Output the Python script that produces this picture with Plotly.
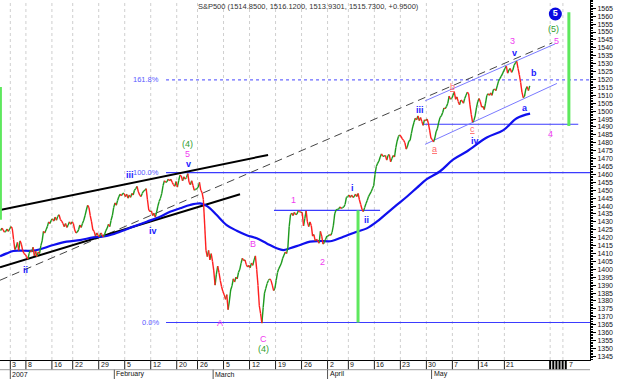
import plotly.graph_objects as go

# ---------------- DATA ----------------
title_text = "S&P500 (1514.8500, 1516.1200, 1513.9301, 1515.7300, +0.9500)"

# trading-day index (0 = 3 Jan 2007); four intraday readings per day
trade_days = ["Dec28", "Dec29",
              "Jan3", "Jan4", "Jan5", "Jan8", "Jan9", "Jan10", "Jan11", "Jan12", "Jan16", "Jan17",
              "Jan18", "Jan19", "Jan22", "Jan23", "Jan24", "Jan25", "Jan26", "Jan29", "Jan30", "Jan31",
              "Feb1", "Feb2", "Feb5", "Feb6", "Feb7", "Feb8", "Feb9", "Feb12", "Feb13", "Feb14",
              "Feb15", "Feb16", "Feb20", "Feb21", "Feb22", "Feb23", "Feb26", "Feb27", "Feb28",
              "Mar1", "Mar2", "Mar5", "Mar6", "Mar7", "Mar8", "Mar9", "Mar12", "Mar13", "Mar14",
              "Mar15", "Mar16", "Mar19", "Mar20", "Mar21", "Mar22", "Mar23", "Mar26", "Mar27",
              "Mar28", "Mar29", "Mar30",
              "Apr2", "Apr3", "Apr4", "Apr5", "Apr9", "Apr10", "Apr11", "Apr12", "Apr13", "Apr16",
              "Apr17", "Apr18", "Apr19", "Apr20", "Apr23", "Apr24", "Apr25", "Apr26", "Apr27", "Apr30",
              "May1", "May2", "May3", "May4", "May7", "May8", "May9", "May10", "May11", "May14",
              "May15", "May16", "May17", "May18", "May21", "May22", "May23", "May24", "May25"]
first_day_index = -2

price_quarters = [
    [1424.5, 1426, 1425, 1423.5], [1424, 1425.5, 1424, 1425.5],
    [1427, 1426, 1419, 1412.5], [1414, 1417, 1412, 1418], [1416, 1412, 1410, 1409.5],
    [1408, 1406.5, 1410, 1412], [1411, 1414, 1408.5, 1411.5], [1408, 1411, 1410, 1415],
    [1418, 1424, 1423, 1425], [1427, 1430, 1429, 1431], [1432, 1430.5, 1433, 1431],
    [1433.5, 1434.5, 1431.5, 1430.5], [1429, 1427, 1429, 1426.5], [1428, 1430, 1428.5, 1430],
    [1429, 1425, 1423, 1423.5], [1425, 1428, 1426.5, 1429], [1431, 1434, 1437.5, 1440.5],
    [1439, 1434, 1430, 1425], [1424, 1421, 1423, 1421.5], [1420.5, 1423, 1422, 1420.5],
    [1422, 1424.5, 1426, 1428.5], [1427, 1431, 1434, 1439],
    [1442, 1440.5, 1443.5, 1446], [1447.5, 1446.5, 1448, 1448], [1446, 1447.5, 1445, 1447],
    [1445.5, 1448, 1447, 1450], [1451, 1452.5, 1449, 1447], [1446, 1448, 1449.5, 1450],
    [1451, 1444, 1437.5, 1436.5], [1437, 1434, 1435.5, 1433], [1436, 1440, 1443, 1445],
    [1448, 1453, 1456, 1455], [1455.5, 1457, 1456, 1457], [1455, 1453.5, 1452.5, 1455.5],
    [1452, 1456, 1459.5, 1459], [1456, 1458.5, 1457, 1458], [1460.5, 1455, 1453.5, 1456],
    [1453, 1450, 1450.5, 1451], [1452, 1455, 1450, 1448.5], [1444, 1428, 1412, 1408],
    [1412, 1406, 1410, 1405],
    [1399, 1390, 1397, 1402], [1398, 1393, 1389, 1386], [1384, 1381, 1384, 1374.5],
    [1380, 1387, 1389.5, 1394], [1392, 1395, 1394, 1398], [1400, 1404, 1407, 1405.5],
    [1406, 1403, 1401.5, 1402.5], [1401, 1404, 1402.5, 1406], [1408.5, 1400, 1390, 1377],
    [1372, 1366, 1376, 1385], [1388, 1391, 1393, 1394], [1393, 1390, 1386.5, 1388],
    [1393, 1398, 1400.5, 1402], [1404, 1407, 1409, 1411], [1410, 1414, 1427, 1434.5],
    [1435.5, 1434, 1436, 1434.5], [1435, 1437, 1436.5, 1436], [1436, 1427.5, 1432, 1437],
    [1430, 1427, 1430, 1427.5], [1421, 1422, 1418, 1419], [1418, 1416.5, 1424, 1421],
    [1416, 1417, 1419, 1421],
    [1421, 1422, 1421.5, 1423.5], [1428, 1435, 1437.5, 1438], [1438, 1439.5, 1438.5, 1439],
    [1439.5, 1441, 1445.5, 1446], [1447, 1445.5, 1447, 1445.5], [1446, 1447.5, 1446, 1448],
    [1444, 1441, 1438, 1436.5], [1439, 1441.5, 1443.5, 1446], [1447.5, 1449, 1451, 1453],
    [1460, 1465, 1467, 1468.5], [1471, 1473, 1471.5, 1471.5], [1472, 1469, 1472, 1472.5],
    [1468, 1470, 1472, 1471], [1477, 1481, 1484, 1485], [1484, 1482.5, 1481.5, 1480],
    [1476, 1478, 1481, 1481.5], [1486, 1490, 1493, 1495.5], [1494.5, 1497, 1494, 1496],
    [1493.5, 1491, 1494.5, 1494], [1495, 1492.5, 1488, 1483],
    [1482, 1480.5, 1483, 1487], [1489, 1493, 1496, 1497], [1499, 1502, 1501.5, 1503],
    [1505, 1509.5, 1507.5, 1508], [1510, 1512, 1507.5, 1509], [1506, 1504, 1507, 1506.5],
    [1505, 1508, 1510, 1512], [1511, 1504, 1498, 1493], [1494, 1497, 1502, 1506],
    [1508, 1506, 1502.5, 1503], [1501, 1505, 1510, 1511], [1510, 1511.5, 1510, 1513.5],
    [1514, 1513, 1516, 1519], [1520.5, 1522, 1523.5, 1525.5], [1527, 1528.5, 1524, 1526],
    [1527, 1524.5, 1526, 1529], [1530.5, 1531.5, 1527, 1523], [1518, 1512, 1508.5, 1509.5],
    [1514, 1515.5, 1513, 1516],
]

# moving average
ma_idx = [-1.98, -0.69, 0.58, 1.87, 4.42, 5.71, 8.27, 10.85, 13.4, 15.96, 18.54, 21.1, 23.65,
          26.23, 28.79, 30.71, 32.63, 34.56, 36.48, 37.44, 38.4, 39.69, 41.6, 43.54, 45.46,
          47.38, 49.31, 51.23, 52.5, 53.79, 55.71, 57.63, 59.56, 61.81, 64.04, 66.62, 68.54,
          70.46, 72.38, 74.31, 76.23, 78.15, 80.08, 82.63, 85.19, 87.77, 91.62, 94.81, 97.38, 99.94]
ma_val = [1408.3, 1410.1, 1411.6, 1411.8, 1411.8, 1412.7, 1415.4, 1417.5, 1418.5, 1420.2,
          1421.1, 1423.8, 1427.0, 1430.1, 1433.3, 1436.4, 1438.6, 1440.7, 1441.7, 1440.7,
          1438.6, 1434.3, 1428.0, 1424.4, 1421.6, 1419.6, 1416.4, 1413.3, 1412.2, 1413.3,
          1415.4, 1417.5, 1417.9, 1417.9, 1420.6, 1423.8, 1425.9, 1430.1, 1435.4, 1440.7,
          1445.9, 1451.5, 1457.0, 1462.0, 1469.5, 1474.5, 1483.3, 1488.0, 1495.5, 1498.4]

# trend lines (start/end in day index and price)
upper_black_idx, upper_black_val = [-1.98, 49.56], [1437.5, 1472.3]
lower_black_idx, lower_black_val = [-1.98, 44.17], [1401.3, 1447.5]
dashed_idx, dashed_val = [-1.98, 104.2], [1393.1, 1543.2]
chan_top_idx, chan_top_val = [79.75, 104.75], [1506.5, 1542.5]
chan_bot_idx, chan_bot_val = [79.75, 105.1], [1479.0, 1517.5]
level_a_idx, level_a_val = [79.2, 109.2], [1491.7, 1491.7]
level_b_idx, level_b_val = [50.7, 71.1], [1437.3, 1437.3]

fib_names = ["0.0%", "100.0%", "161.8%"]
fib_levels = [1366.4, 1461.1, 1519.7]
fib_start = 29.94

green_bar_idx = [-1.9, 66.86, 107.4]
green_bar_lo = [1431.3, 1366.4, 1490.6]
green_bar_hi = [1515.2, 1437.3, 1562.5]

wave_text = ["(4)", "5", "v", "iii", "iv", "ii", "A", "B", "C", "(4)", "1", "2", "i", "ii", "iii",
             "a", "b", "c", "iv", "3", "v", "b", "a", "4", "(5)", "5"]
wave_idx = [34.0, 34.0, 34.2, 23.1, 27.4, 3.0, 40.3, 46.7, 48.6, 48.6, 54.4, 60.0, 65.7, 68.4, 78.8,
            81.5, 85.1, 88.9, 89.4, 96.6, 96.9, 100.7, 98.9, 103.8, 104.4, 105.1]
wave_val = [1479.5, 1472.9, 1466.6, 1459.5, 1424.5, 1399.3, 1366.3, 1416.0, 1356.0, 1349.7, 1443.8,
            1404.6, 1451.5, 1431.2, 1501.0, 1476.0, 1515.0, 1489.0, 1481.3, 1544.3, 1536.6, 1523.9,
            1501.9, 1485.5, 1551.8, 1544.4]
wave_kind = ["g", "m", "b", "b", "b", "b", "m", "m", "m", "g", "m", "m", "b", "b", "b",
             "r", "r", "r", "b", "m", "b", "b", "b", "m", "g", "m"]
circle_label, circle_idx, circle_val = "5", 104.8, 1561.4

week_ticks = [0, 3, 8, 12, 17, 22, 27, 32, 36, 41, 46, 51, 56, 61, 65, 70, 75, 80, 85, 90, 95]
week_labels = ["3", "8", "16", "22", "29", "5", "12", "20", "26", "5", "12", "19", "26",
               "2", "9", "16", "23", "30", "7", "14", "21"]
future_grid = [103.8, 106.25]
future_ticks = [103.8, 104.4, 105.0, 105.6, 106.2, 106.8]
future_label, future_label_idx = "7", 107.0
month_ticks = [0, 20, 39, 61, 81]
month_labels = ["2007", "February", "March", "April", "May"]

y_ticks = list(range(1345, 1566, 5))
X_RANGE = [-1.98, 111.46]
Y_RANGE = [1342.7, 1570.25]

# ---------------- STYLE ----------------
FONT = "Liberation Sans, Arial, sans-serif"
GREEN, RED = "#1e9a1e", "#ff1f1f"
KIND_COLOR = {"g": "#2f9e2f", "m": "#f03cf0", "b": "#1a1aff", "r": "#ff6a6a"}
PLOT_H = 360.0

fig = go.Figure()

# price line split into rising / falling segments
px_x, px_y = [], []
for d, vals in enumerate(price_quarters):
    di = first_day_index + d
    for k, v in enumerate(vals):
        px_x.append(di + (k + 0.5) / 4)
        px_y.append(v)
gx, gy, rx, ry = [], [], [], []
for i in range(len(px_y) - 1):
    if px_y[i + 1] >= px_y[i]:
        gx += [px_x[i], px_x[i + 1], None]; gy += [px_y[i], px_y[i + 1], None]
    else:
        rx += [px_x[i], px_x[i + 1], None]; ry += [px_y[i], px_y[i + 1], None]

def line(x, y, color, width=1, dash=None, shape="linear"):
    fig.add_trace(go.Scatter(x=x, y=y, mode="lines", hoverinfo="skip",
                             line=dict(color=color, width=width, dash=dash, shape=shape)))

# fib levels
for nm, lv in zip(fib_names, fib_levels):
    dotted = nm == "161.8%"
    line([fib_start, X_RANGE[1]], [lv, lv], "#6a6aff" if dotted else "#3b3bff",
         1.3 if dotted else 1.2, "dot" if dotted else None)
    fig.add_annotation(x=fib_start, y=lv, xref="x", yref="y", text=nm, showarrow=False,
                       xanchor="right", yanchor="middle", xshift=-6, borderpad=0,
                       font=dict(family=FONT, size=7.5, color="#5a5aff"))

line(level_a_idx, level_a_val, "#3b3bff", 1.2)
line(level_b_idx, level_b_val, "#3b3bff", 1.2)
line(chan_top_idx, chan_top_val, "#7a7aff", 1)
line(chan_bot_idx, chan_bot_val, "#7a7aff", 1)
line(dashed_idx, dashed_val, "#444444", 1, "8px,5px")
line(upper_black_idx, upper_black_val, "#000000", 2)
line(lower_black_idx, lower_black_val, "#000000", 2)
line(ma_idx, ma_val, "#1010ee", 2.2, shape="spline")
line(gx, gy, GREEN, 1.4)
line(rx, ry, RED, 1.4)

for bi, lo, hi in zip(green_bar_idx, green_bar_lo, green_bar_hi):
    line([bi, bi], [lo, hi], "#5ee85e", 3)

# wave labels
for t, xi, yv, kd in zip(wave_text, wave_idx, wave_val, wave_kind):
    txt = t
    if kd == "b":
        txt = "<b>" + t + "</b>"
    elif kd == "r":
        txt = "<u>" + t + "</u>"
    fig.add_annotation(x=xi, y=yv, text=txt, showarrow=False, xanchor="center", yanchor="middle",
                       borderpad=0, font=dict(family=FONT, size=9, color=KIND_COLOR[kd]))

fig.add_trace(go.Scatter(x=[circle_idx], y=[circle_val], mode="markers+text", text=["<b>" + circle_label + "</b>"],
                         textposition="middle center", hoverinfo="skip",
                         marker=dict(size=13, color="#0a0ae0"),
                         textfont=dict(family=FONT, size=9, color="white")))

# vertical dashed grid
for g in week_ticks + future_grid:
    fig.add_shape(type="line", xref="x", yref="paper", x0=g, x1=g, y0=0, y1=1, layer="below",
                  line=dict(color="#cfcfcf", width=1, dash="3px,3px"))

# bottom date band
row1_bot = -9.7 / PLOT_H
row2_bot = -19 / PLOT_H
for g, lab in zip(week_ticks, week_labels):
    fig.add_shape(type="line", xref="x", yref="paper", x0=g, x1=g, y0=0, y1=row1_bot,
                  line=dict(color="#222222", width=1))
    fig.add_annotation(x=g, y=-4.9 / PLOT_H, xref="x", yref="paper", text=lab, showarrow=False,
                       xanchor="left", yanchor="middle", xshift=1, borderpad=0,
                       font=dict(family=FONT, size=7, color="#111111"))
for g in future_ticks:
    fig.add_shape(type="line", xref="x", yref="paper", x0=g, x1=g, y0=0, y1=row1_bot,
                  line=dict(color="#000000", width=2))
fig.add_annotation(x=future_label_idx, y=-4.9 / PLOT_H, xref="x", yref="paper", text=future_label,
                   showarrow=False, xanchor="left", yanchor="middle", xshift=1, borderpad=0,
                   font=dict(family=FONT, size=7, color="#111111"))
fig.add_shape(type="line", xref="paper", yref="paper", x0=0, x1=1, y0=row1_bot, y1=row1_bot,
              line=dict(color="#9a9a9a", width=1))
for g, lab in zip(month_ticks, month_labels):
    fig.add_shape(type="line", xref="x", yref="paper", x0=g, x1=g, y0=row1_bot, y1=row2_bot,
                  line=dict(color="#555555", width=1))
    fig.add_annotation(x=g, y=-14.3 / PLOT_H, xref="x", yref="paper", text=lab, showarrow=False,
                       xanchor="left", yanchor="middle", xshift=1, borderpad=0,
                       font=dict(family=FONT, size=7, color="#111111"))

fig.update_layout(
    width=620, height=379, margin=dict(l=0, r=30, t=0, b=19, autoexpand=False),
    paper_bgcolor="white", plot_bgcolor="white", showlegend=False,
    font=dict(family=FONT, size=7, color="#111111"),
    title=dict(text=title_text, x=0.497, y=1 - 6.5 / 379, xanchor="center", yanchor="middle",
               font=dict(family=FONT, size=7.5, color="#333333")),
    xaxis=dict(range=X_RANGE, showgrid=False, zeroline=False, showticklabels=False, ticks="",
               showline=True, linecolor="#000000", linewidth=1, fixedrange=True, automargin=False),
    yaxis=dict(range=Y_RANGE, side="right", tickvals=y_ticks, ticks="outside", ticklen=5,
               tickcolor="#000000", showline=True, linecolor="#000000", linewidth=1,
               showgrid=False, zeroline=False, tickfont=dict(family=FONT, size=7, color="#111111"),
               minor=dict(dtick=1, ticks="outside", ticklen=2, tickcolor="#000000", showgrid=False),
               fixedrange=True, automargin=False),
)

fig.write_html("out.html", config={"displayModeBar": False, "staticPlot": True},
               post_script="document.body.style.margin='0';document.body.style.padding='0';"
                           "document.documentElement.style.overflow='hidden';")
